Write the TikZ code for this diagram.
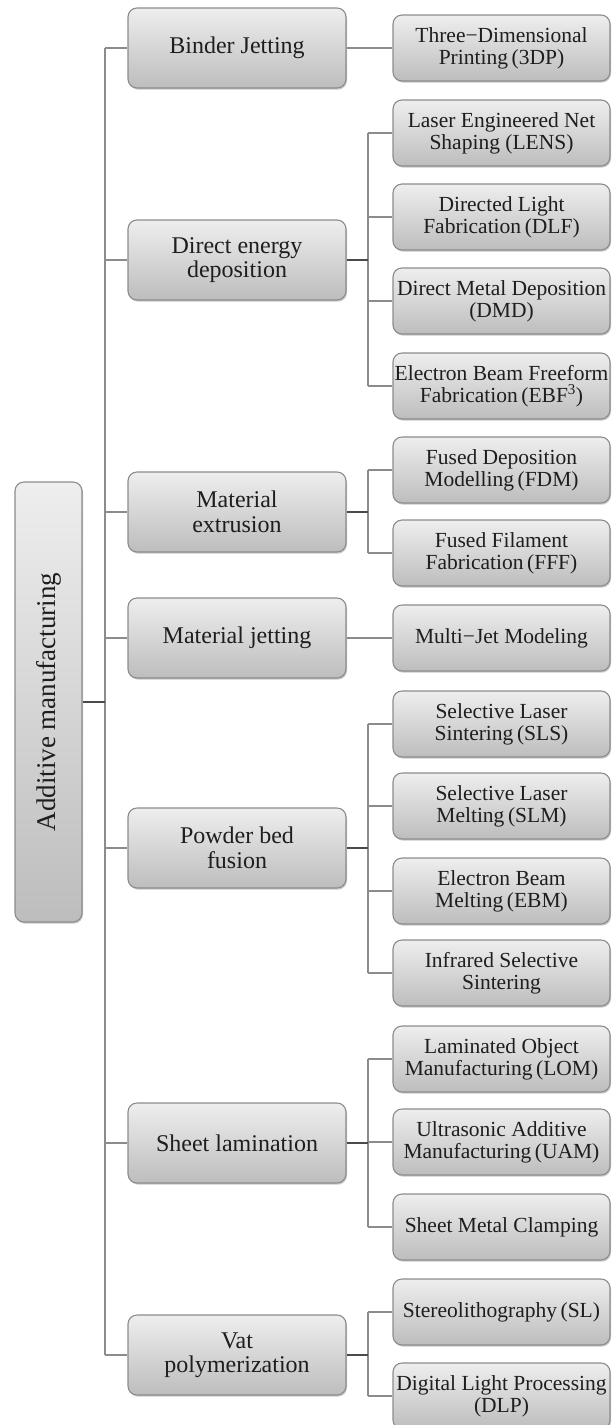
\documentclass[tikz,border=0pt]{standalone}
\usepackage{fontspec}
\setmainfont{Liberation Serif}
\usetikzlibrary{shadows,calc}
\definecolor{boxtop}{HTML}{EEEEEE}
\definecolor{boxbot}{HTML}{BDBDBD}
\definecolor{boxline}{HTML}{8C8C8C}
\definecolor{lineg}{HTML}{8C8C8C}
\definecolor{lined}{HTML}{4A4A4A}
\definecolor{txt}{HTML}{1E1E1E}
\tikzset{
  boxbase/.style={rounded corners=9pt, draw=boxline, line width=1.1pt,
    top color=boxtop, bottom color=boxbot, text=txt, align=center, inner sep=0pt,
    drop shadow={shadow xshift=1pt, shadow yshift=-1.6pt, opacity=0.3, fill=black!70}},
  lvone/.style={boxbase, minimum width=218pt, minimum height=80pt,
    font=\fontsize{24}{24.5}\selectfont},
  lvtwo/.style={boxbase, minimum width=217pt, minimum height=66pt,
    font=\fontsize{21.5}{22}\selectfont},
  rootbox/.style={boxbase, rotate=90, minimum width=440pt, minimum height=67pt,
    font=\fontsize{27}{28}\selectfont},
  conn/.style={draw=lineg, line width=1.6pt},
  connd/.style={draw=lined, line width=2.2pt},
}
\begin{document}
\begin{tikzpicture}[x=1pt,y=-1pt]
\useasboundingbox (0,0) rectangle (614,1425);
\coordinate (T) at (105,0);
\coordinate (G) at (368,0);
% root
\node[rootbox] (root) at (48.5,702) {Additive manufacturing};
% level 1
\node[lvone] (bj)  at (237,48)   {Binder Jetting};
\node[lvone] (ded) at (237,260)  {Direct energy\\deposition};
\node[lvone] (me)  at (237,512)  {Material\\extrusion};
\node[lvone] (mj)  at (237,638)  {Material jetting};
\node[lvone] (pbf) at (237,848)  {Powder bed\\fusion};
\node[lvone] (sl)  at (237,1143) {Sheet lamination};
\node[lvone] (vp)  at (237,1355) {Vat\\polymerization};
% level 2
\node[lvtwo] (tdp)  at (501.5,48)   {Three−Dimensional\\Printing\,(3DP)};
\node[lvtwo] (lens) at (501.5,133)  {Laser Engineered Net\\Shaping (LENS)};
\node[lvtwo] (dlf)  at (501.5,217)  {Directed Light\\Fabrication\,(DLF)};
\node[lvtwo] (dmd)  at (501.5,301)  {Direct Metal Deposition\\(DMD)};
\node[lvtwo] (ebf)  at (501.5,386)  {Electron Beam Freeform\\Fabrication\,(EBF\textsuperscript{3})};
\node[lvtwo] (fdm)  at (501.5,470)  {Fused Deposition\\Modelling\,(FDM)};
\node[lvtwo] (fff)  at (501.5,553)  {Fused Filament\\Fabrication\,(FFF)};
\node[lvtwo] (mjm)  at (501.5,638)  {Multi−Jet Modeling};
\node[lvtwo] (sls)  at (501.5,724)  {Selective Laser\\Sintering\,(SLS)};
\node[lvtwo] (slm)  at (501.5,806)  {Selective Laser\\Melting\,(SLM)};
\node[lvtwo] (ebm)  at (501.5,891)  {Electron Beam\\Melting\,(EBM)};
\node[lvtwo] (irs)  at (501.5,973)  {Infrared Selective\\Sintering};
\node[lvtwo] (lom)  at (501.5,1059) {Laminated Object\\Manufacturing\,(LOM)};
\node[lvtwo] (uam)  at (501.5,1142) {Ultrasonic Additive\\Manufacturing\,(UAM)};
\node[lvtwo] (smc)  at (501.5,1227) {Sheet Metal Clamping};
\node[lvtwo] (stl)  at (501.5,1312) {Stereolithography\,(SL)};
\node[lvtwo] (dlp)  at (501.5,1396) {Digital Light Processing\\(DLP)};
% trunk
\draw[conn] (bj.west -| T) -- (vp.west -| T);
\foreach \n in {bj,ded,me,mj,pbf,sl,vp}{
  \draw[conn] (\n.west) -- (\n.west -| T);
}
\draw[connd] (root.south) -- (root.south -| T);
% single children
\draw[conn] (bj.east) -- (tdp.west);
\draw[conn] (mj.east) -- (mjm.west);
% groups
\foreach \p/\a/\b/\kids in {ded/lens/ebf/{lens,dlf,dmd,ebf},
                           me/fdm/fff/{fdm,fff},
                           pbf/sls/irs/{sls,slm,ebm,irs},
                           sl/lom/smc/{lom,uam,smc},
                           vp/stl/dlp/{stl,dlp}}{
  \draw[conn] (\a.west -| G) -- (\b.west -| G);
  \foreach \k in \kids { \draw[conn] (\k.west) -- (\k.west -| G); }
  \draw[connd] (\p.east) -- (\p.east -| G);
}
\end{tikzpicture}
\end{document}
